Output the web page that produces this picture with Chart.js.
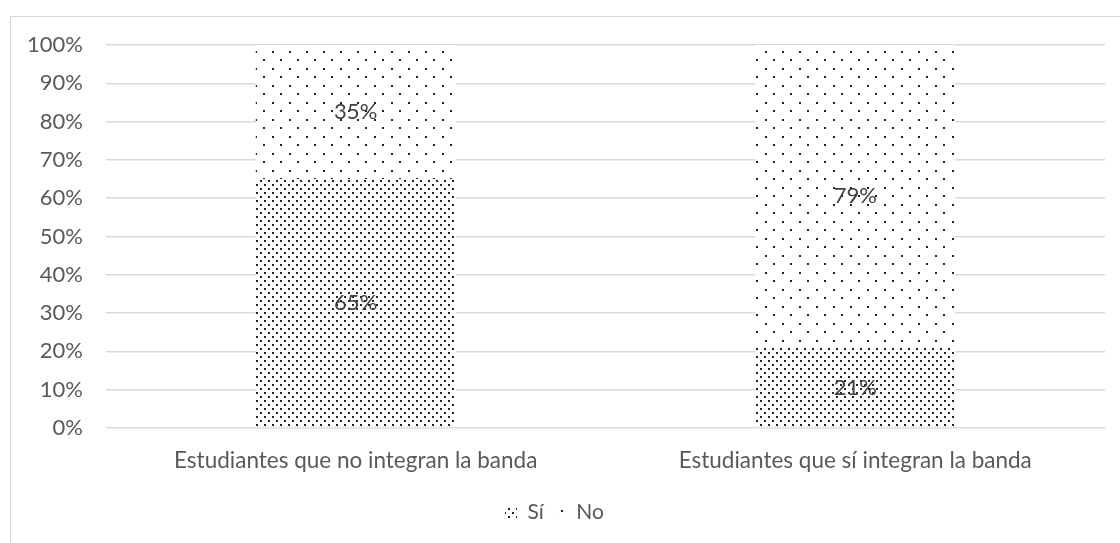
<!DOCTYPE html>
<html>
<head>
<meta charset="utf-8">
<script src="https://cdn.jsdelivr.net/npm/chart.js@4/dist/chart.umd.min.js"></script>
<style>
  html, body { margin: 0; padding: 0; background: #fff; overflow: hidden; }
  #frame { position: absolute; left: 10px; top: 16px; width: 1200px; height: 600px; border: 1px solid #d9d9d9; }
  #wrap { position: absolute; left: 0; top: 0; width: 1120px; height: 543px; }
</style>
</head>
<body>
<div id="frame"></div>
<div id="wrap"><canvas id="myChart" width="1120" height="543"></canvas></div>
<script>
const categories = ['Estudiantes que no integran la banda', 'Estudiantes que sí integran la banda'];
const siValues = [65, 21];
const noValues = [35, 79];
const yTicks = [0, 10, 20, 30, 40, 50, 60, 70, 80, 90, 100];

// dotted fills like the original office patterns
function dotPattern(size, dots, dot) {
  var c = document.createElement('canvas');
  c.width = size; c.height = size;
  var g = c.getContext('2d');
  g.fillStyle = '#fff';
  g.fillRect(0, 0, size, size);
  g.fillStyle = '#222';
  dots.forEach(function (d) { g.fillRect(d[0], d[1], dot, dot); });
  return g.createPattern(c, 'repeat');
}

const densePattern = dotPattern(8, [[0, 0], [4, 4]], 2);
const sparsePattern = dotPattern(17, [[0, 0], [8, 8]], 2);

// value labels in the middle of each segment
const valueLabels = {
  id: 'valueLabels',
  afterDatasetsDraw(chart) {
    const ctx = chart.ctx;
    ctx.save();
    ctx.font = '22px Lato';
    ctx.fillStyle = '#404040';
    ctx.textAlign = 'center';
    ctx.textBaseline = 'middle';
    chart.data.datasets.forEach(function (ds, i) {
      chart.getDatasetMeta(i).data.forEach(function (bar, j) {
        const p = bar.getProps(['x', 'y', 'base'], true);
        ctx.fillText(ds.data[j] + '%', p.x, (p.y + p.base) / 2);
      });
    });
    ctx.restore();
  }
};

const data = {
  labels: categories,
  datasets: [{
    label: 'Sí',
    data: siValues,
    backgroundColor: densePattern,
    borderWidth: 0
  }, {
    label: 'No',
    data: noValues,
    backgroundColor: sparsePattern,
    borderWidth: 0
  }]
};

const config = {
  type: 'bar',
  data: data,
  options: {
    responsive: false,
    animation: false,
    barPercentage: 0.4,
    categoryPercentage: 1,
    layout: { padding: { left: 4, right: 15, top: 45, bottom: 10 } },
    plugins: {
      legend: {
        position: 'bottom',
        labels: {
          boxWidth: 12,
          boxHeight: 12,
          padding: 10,
          color: '#595959',
          font: { family: 'Lato', size: 21 }
        }
      },
      title: { display: false },
      tooltip: { enabled: false }
    },
    scales: {
      x: {
        stacked: true,
        grid: { display: false, drawTicks: false },
        border: { display: false },
        ticks: {
          color: '#595959',
          font: { family: 'Lato', size: 22.5 },
          padding: 19,
          maxRotation: 0
        },
        afterFit: function (scale) { scale.height = 64; }
      },
      y: {
        stacked: true,
        min: 0,
        max: 100,
        afterBuildTicks: function (scale) { scale.ticks = yTicks.map(function (v) { return { value: v }; }); },
        grid: { color: '#d9d9d9', lineWidth: 1.5, drawTicks: false },
        border: { display: false },
        ticks: {
          color: '#595959',
          font: { family: 'Lato', size: 22 },
          padding: 23,
          callback: function (v) { return v + '%'; }
        }
      }
    }
  },
  plugins: [valueLabels]
};

new Chart(document.getElementById('myChart').getContext('2d'), config);
</script>
</body>
</html>
